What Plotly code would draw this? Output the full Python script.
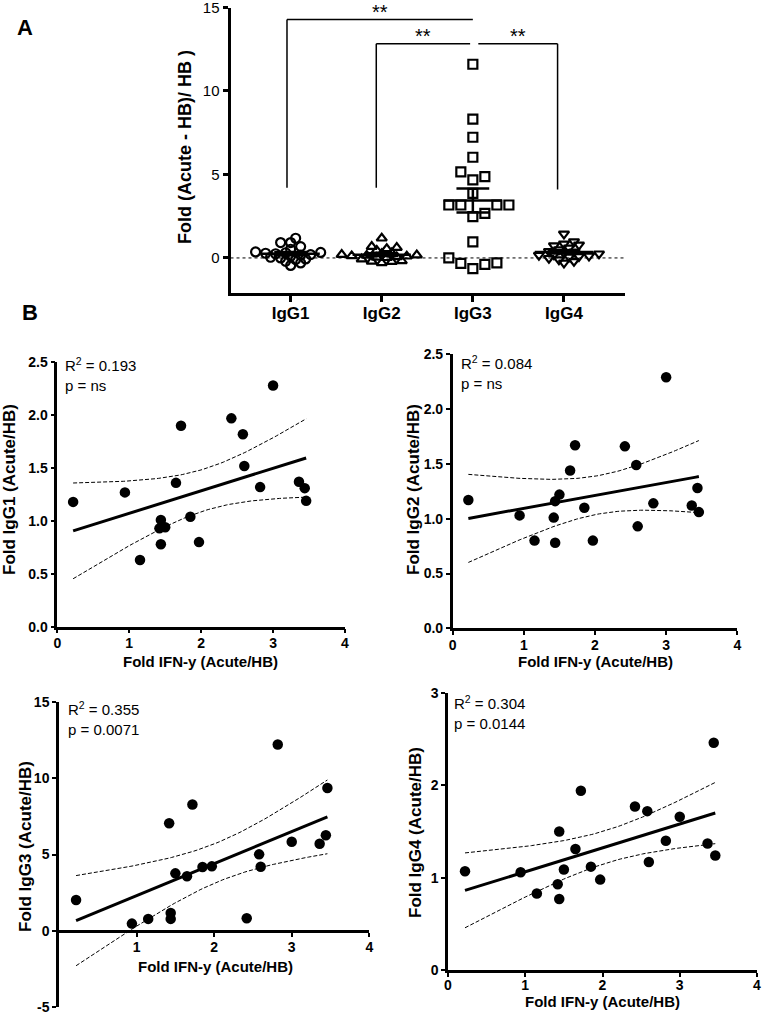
import numpy as np
import plotly.graph_objects as go

W, H = 762, 1013
FONT = "Arial, Liberation Sans, sans-serif"

# ---------------- Panel A data: Fold (Acute - HB)/HB ----------------
groups = ["IgG1", "IgG2", "IgG3", "IgG4"]
a_igg1 = [1.18, 0.92, 0.92, 0.68, 0.52, 0.36, 0.33, 0.31, 0.28, 0.25, 0.20, 0.17,
          0.10, 0.04, 0.00, -0.06, -0.10, -0.20, -0.30, -0.45]
a_igg2 = [1.18, 0.68, 0.62, 0.55, 0.45, 0.30, 0.25, 0.20, 0.17, 0.15, 0.12, 0.10,
          0.06, 0.03, 0.01, -0.07, -0.18, -0.20, -0.22, -0.30]
a_igg3 = [11.6, 8.32, 7.23, 6.03, 5.15, 4.87, 4.67, 3.87, 3.17, 3.17, 3.17, 3.17,
          2.67, 2.47, 0.96, 0.00, -0.32, -0.64, -0.39, -0.30]
a_igg4 = [1.44, 0.98, 0.84, 0.78, 0.74, 0.60, 0.50, 0.40, 0.37, 0.30, 0.25, 0.20,
          0.17, 0.12, 0.09, 0.06, -0.02, -0.10, -0.20, -0.30]
a_symbols = ["circle-open", "triangle-up-open", "square-open", "triangle-down-open"]

# ---------------- Panel B data: correlations ----------------
ifn_x = [0.22, 0.94, 1.15, 1.42, 1.44, 1.44, 1.50, 1.65, 1.72, 1.85, 1.97, 2.42,
         2.58, 2.60, 2.82, 3.00, 3.36, 3.44, 3.46]
b_igg1 = [1.18, 1.27, 0.63, 0.93, 1.01, 0.78, 0.94, 1.36, 1.90, 1.04, 0.80, 1.97,
          1.82, 1.52, 1.32, 2.28, 1.37, 1.31, 1.19]
b_igg2 = [1.17, 1.03, 0.80, 1.01, 1.16, 0.78, 1.22, 1.44, 1.67, 1.10, 0.80, 1.66,
          1.49, 0.93, 1.14, 2.29, 1.12, 1.28, 1.06]
b_igg3 = [2.01, 0.46, 0.77, 7.05, 1.16, 0.77, 3.76, 3.57, 8.29, 4.18, 4.22, 0.81,
          5.01, 4.20, 12.23, 5.84, 5.71, 6.26, 9.37]
b_igg4 = [1.07, 1.06, 0.83, 0.93, 1.50, 0.77, 1.09, 1.31, 1.94, 1.12, 0.98, 1.77,
          1.72, 1.17, 1.40, 1.66, 1.37, 2.46, 1.24]
b_stats = [("0.193", "ns"), ("0.084", "ns"), ("0.355", "0.0071"), ("0.304", "0.0144")]
T_CRIT = 2.110  # t(0.975, df=17)


def px_x(p):
    return p / W


def px_y(p):
    return 1 - p / H


def note(fig, xp, yp, text, size, angle=0, xanchor="center", align="center"):
    fig.add_annotation(x=px_x(xp), y=px_y(yp), xref="paper", yref="paper", text=text,
                       textangle=angle, showarrow=False, xanchor=xanchor,
                       yanchor="middle", align=align,
                       font=dict(family=FONT, size=size, color="black"))


fig = go.Figure()

# ---------------- Panel A ----------------
A_XPX = 91.0   # px per category
A_YPX = 16.7   # px per value unit


def swarm(vals, d, step):
    vals = np.asarray(vals, float)
    order = np.argsort(vals)
    placed = []
    offs = np.zeros(len(vals))
    for i in order:
        yv = vals[i] * A_YPX
        k = 0
        while True:
            cands = [0.0] if k == 0 else [k * step, -k * step]
            ok = None
            for c in cands:
                if all(np.hypot(c - px, yv - py) >= d for px, py in placed):
                    ok = c
                    break
            if ok is not None:
                placed.append((ok, yv))
                offs[i] = ok / A_XPX
                break
            k += 1
    return offs


a_data = [a_igg1, a_igg2, a_igg3, a_igg4]
swarm_par = [(6.0, 5.0), (6.0, 5.0), (12.0, 12.0), (6.0, 5.0)]
for gi, (vals, sym) in enumerate(zip(a_data, a_symbols)):
    d, st = swarm_par[gi]
    offs = swarm(vals, d, st)
    fig.add_trace(go.Scatter(
        x=gi + offs, y=vals, mode="markers", xaxis="x", yaxis="y",
        marker=dict(symbol=sym, size=9, color="black", line=dict(width=2.2, color="black")),
        showlegend=False, hoverinfo="skip"))
    m = float(np.mean(vals))
    sem = float(np.std(vals, ddof=1) / np.sqrt(len(vals)))
    fig.add_trace(go.Scatter(x=[gi - 0.32, gi + 0.32], y=[m, m], mode="lines",
                             xaxis="x", yaxis="y", line=dict(color="black", width=2.5),
                             showlegend=False, hoverinfo="skip"))
    for yy in (m - sem, m + sem):
        fig.add_trace(go.Scatter(x=[gi - 0.18, gi + 0.18], y=[yy, yy], mode="lines",
                                 xaxis="x", yaxis="y", line=dict(color="black", width=2.5),
                                 showlegend=False, hoverinfo="skip"))
    fig.add_trace(go.Scatter(x=[gi, gi], y=[m - sem, m + sem], mode="lines",
                             xaxis="x", yaxis="y", line=dict(color="black", width=2.5),
                             showlegend=False, hoverinfo="skip"))

# zero dotted line
fig.add_shape(type="line", xref="x", yref="y", x0=-0.66, x1=3.67, y0=0, y1=0,
              line=dict(color="black", width=1, dash="dot"))

# significance brackets
brackets = [(-0.04, 2.0, 14.28, 4.2, -0.04), (0.94, 1.97, 12.83, 4.2, 0.94),
            (2.06, 2.93, 12.83, 4.1, 2.93)]
for (xa, xb, ytop, ybot, xv_end) in brackets:
    fig.add_shape(type="line", xref="x", yref="y", x0=xa, x1=xb, y0=ytop, y1=ytop,
                  line=dict(color="black", width=1.5))
    fig.add_shape(type="line", xref="x", yref="y", x0=xv_end, x1=xv_end, y0=ytop, y1=ybot,
                  line=dict(color="black", width=1.5))
    fig.add_annotation(x=(xa + xb) / 2, y=ytop, xref="x", yref="y", text="**",
                       showarrow=False, xanchor="center", yanchor="bottom", yshift=-5,
                       font=dict(family=FONT, size=20, color="black"))

axis_common = dict(showline=True, linecolor="black", ticks="outside", tickcolor="black",
                   showgrid=False, zeroline=False, fixedrange=True,
                   ticklabeloverflow="allow")

layout = dict(
    width=W, height=H, margin=dict(l=0, r=0, t=0, b=0, autoexpand=False),
    paper_bgcolor="white", plot_bgcolor="white", showlegend=False,
    xaxis=dict(domain=[px_x(230.5), px_x(625)], range=[-0.66, 3.67], anchor="y",
               tickvals=[0, 1, 2, 3], ticktext=[f"<b>{g}</b>" for g in groups],
               linewidth=3, tickwidth=2.5, ticklen=6, ticklabelstandoff=-3,
               tickfont=dict(family=FONT, size=17, color="black"), **axis_common),
    yaxis=dict(domain=[px_y(293), px_y(7.5)], range=[-2.1, 15], anchor="x",
               tickvals=[0, 5, 10, 15], linewidth=3, tickwidth=2.5, ticklen=5,
               tickfont=dict(family=FONT, size=15, color="black"), **axis_common),
)

note(fig, 185, 147, "<b>Fold (Acute - HB)/ HB )</b>", 18, angle=-90)
note(fig, 25, 27, "<b>A</b>", 22)
note(fig, 30, 313, "<b>B</b>", 22)

# ---------------- Panel B ----------------
b_data = [b_igg1, b_igg2, b_igg3, b_igg4]
panels = [
    dict(xd=(57.3, 345), yd=(626.7, 362.3), yr=[0, 2.5], yt=[0, 0.5, 1, 1.5, 2, 2.5],
         ytt=["0.0", "0.5", "1.0", "1.5", "2.0", "2.5"],
         xpos=None, xt=[0, 1, 2, 3, 4], ytitle=(9, 490), xtitle=(200, 661),
         txt=(63, 375), so=-2),
    dict(xd=(452.7, 737.3), yd=(628.3, 354.3), yr=[0, 2.5], yt=[0, 0.5, 1, 1.5, 2, 2.5],
         ytt=["0.0", "0.5", "1.0", "1.5", "2.0", "2.5"],
         xpos=None, xt=[0, 1, 2, 3, 4], ytitle=(413, 490), xtitle=(595, 661),
         txt=(459, 372), so=-2),
    dict(xd=(59, 369.3), yd=(1006.7, 702.3), yr=[-5, 15], yt=[-5, 0, 5, 10, 15],
         ytt=["-5", "0", "5", "10", "15"],
         xpos=931, xt=[1, 2, 3, 4], ytitle=(25, 847), xtitle=(215, 966),
         txt=(66, 718), so=-2),
    dict(xd=(448, 757), yd=(970.3, 692.7), yr=[0, 3], yt=[0, 1, 2, 3],
         ytt=["0", "1", "2", "3"],
         xpos=None, xt=[0, 1, 2, 3, 4], ytitle=(415, 832), xtitle=(602, 1001),
         txt=(452, 712), so=-4),
]

xv = np.asarray(ifn_x, float)
for k, (yvals, P) in enumerate(zip(b_data, panels)):
    xa = f"x{k + 2}"
    ya = f"y{k + 2}"
    yv = np.asarray(yvals, float)
    fig.add_trace(go.Scatter(x=xv, y=yv, mode="markers", xaxis=xa, yaxis=ya,
                             marker=dict(size=10.5, color="black"), showlegend=False,
                             hoverinfo="skip", cliponaxis=False))
    n = len(xv)
    slope, icpt = np.polyfit(xv, yv, 1)
    xx = np.linspace(xv.min(), xv.max(), 80)
    fit = icpt + slope * xx
    resid = yv - (icpt + slope * xv)
    s = np.sqrt(np.sum(resid ** 2) / (n - 2))
    sxx = np.sum((xv - xv.mean()) ** 2)
    half = T_CRIT * s * np.sqrt(1 / n + (xx - xv.mean()) ** 2 / sxx)
    fig.add_trace(go.Scatter(x=xx, y=fit, mode="lines", xaxis=xa, yaxis=ya,
                             line=dict(color="black", width=3), showlegend=False,
                             hoverinfo="skip"))
    for band in (fit - half, fit + half):
        fig.add_trace(go.Scatter(x=xx, y=band, mode="lines", xaxis=xa, yaxis=ya,
                                 line=dict(color="black", width=1, dash="4px,2px"),
                                 showlegend=False, hoverinfo="skip"))
    xaxis_def = dict(domain=[px_x(P["xd"][0]), px_x(P["xd"][1])], range=[0, 4],
                     tickvals=P["xt"], linewidth=2.5, tickwidth=2, ticklen=4,
                     ticklabelstandoff=P["so"],
                     tickfont=dict(family=FONT, size=14, color="black", weight="bold"),
                     **axis_common)
    if P["xpos"] is None:
        xaxis_def["anchor"] = ya
    else:
        xaxis_def["anchor"] = "free"
        xaxis_def["position"] = px_y(P["xpos"])
    layout[f"xaxis{k + 2}"] = xaxis_def
    layout[f"yaxis{k + 2}"] = dict(domain=[px_y(P["yd"][0]), px_y(P["yd"][1])],
                                   range=P["yr"], tickvals=P["yt"], ticktext=P["ytt"],
                                   anchor=xa, linewidth=2.5, tickwidth=2, ticklen=4,
                                   tickfont=dict(family=FONT, size=14, color="black",
                                                 weight="bold"),
                                   **axis_common)
    gname = groups[k]
    note(fig, P["ytitle"][0], P["ytitle"][1], f"<b>Fold {gname} (Acute/HB)</b>", 17,
         angle=-90)
    note(fig, P["xtitle"][0], P["xtitle"][1], "<b>Fold IFN-y (Acute/HB)</b>", 15)
    r2, pv = b_stats[k]
    note(fig, P["txt"][0], P["txt"][1], f"R<sup>2</sup> = {r2}<br>p = {pv}", 15,
         xanchor="left", align="left")

fig.update_layout(**layout)
fig.write_html("out.html", config={"displayModeBar": False},
               post_script="document.body.style.margin='0';"
                           "document.body.style.overflow='hidden';")
